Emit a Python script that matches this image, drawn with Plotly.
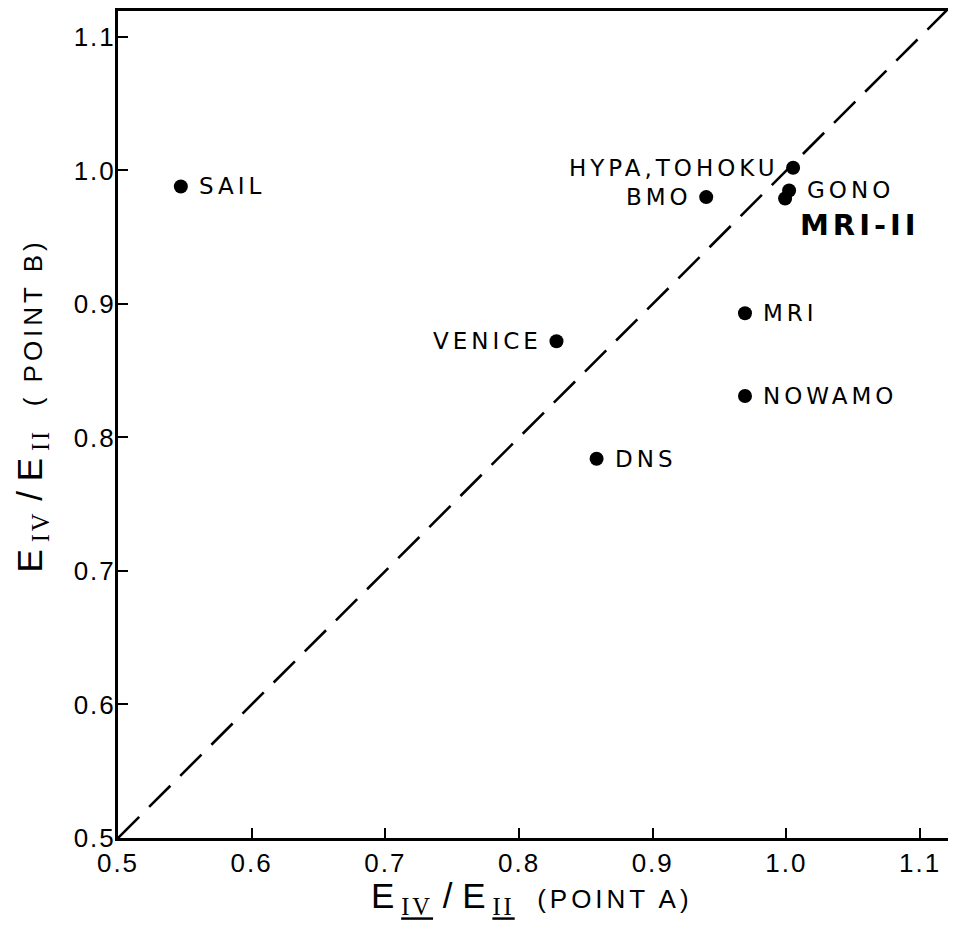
import plotly.graph_objects as go

# Data
labels = ["SAIL", "HYPA,TOHOKU", "GONO", "MRI-II", "BMO", "MRI", "NOWAMO", "VENICE", "DNS"]
point_a = [0.547, 1.005, 1.002, 0.999, 0.940, 0.969, 0.969, 0.828, 0.858]
point_b = [0.988, 1.002, 0.985, 0.979, 0.980, 0.893, 0.831, 0.872, 0.784]
tick_values = [0.5, 0.6, 0.7, 0.8, 0.9, 1.0, 1.1]
tick_labels = ["0.5", "0.6", "0.7", "0.8", "0.9", "1.0", "1.1"]
diag = [0.5, 1.13]

# label side per point (style)
label_side = ["right", "left", "right", "below", "left", "right", "right", "left", "right"]

SP = "<span style='letter-spacing:4px'>{}</span>"
ROMAN = "<span style='font-family:Liberation Serif;letter-spacing:3px'>{}</span>"

fig = go.Figure()

fig.add_trace(go.Scatter(
    x=diag, y=diag, mode="lines",
    line=dict(color="black", width=2.6, dash="30px,14px"),
    hoverinfo="skip", showlegend=False,
))

fig.add_trace(go.Scatter(
    x=point_a, y=point_b, mode="markers",
    marker=dict(color="black", size=14),
    showlegend=False,
))

label_font = dict(family="DejaVu Sans", size=23, color="black")
for lab, xa, yb, side in zip(labels, point_a, point_b, label_side):
    if side == "right":
        fig.add_annotation(x=xa, y=yb, text=SP.format(lab), showarrow=False,
                           xanchor="left", yanchor="middle", xshift=16, font=label_font)
    elif side == "left":
        fig.add_annotation(x=xa, y=yb, text=SP.format(lab), showarrow=False,
                           xanchor="right", yanchor="middle", xshift=-12, font=label_font)
    else:
        fig.add_annotation(x=xa, y=yb, text="<b>" + SP.format(lab) + "</b>", showarrow=False,
                           xanchor="left", yanchor="middle", xshift=13, yshift=-27,
                           font=dict(family="DejaVu Sans", size=29, color="black"))

axis_common = dict(
    tickmode="array", tickvals=tick_values,
    ticktext=["<span style='letter-spacing:2px'>" + t + "</span>" for t in tick_labels],
    ticks="inside", ticklen=10, tickwidth=2, tickcolor="black",
    showline=True, linecolor="black", linewidth=3, mirror=True,
    showgrid=False, zeroline=False,
    tickfont=dict(family="Liberation Sans", size=26, color="black"),
)

fig.update_xaxes(range=[0.5, 1.1246], ticklabelstandoff=0, **axis_common)
fig.update_yaxes(range=[0.5, 1.1194], ticklabelstandoff=-6, **axis_common)

# axis titles
fig.add_annotation(
    xref="paper", yref="paper", x=0.496, y=0, yshift=-60,
    text="E<sub> <u>" + ROMAN.format("IV") + "</u></sub> / E<sub> <u>" + ROMAN.format("II") + "</u></sub>"
         "<span style='font-size:26px;letter-spacing:4px'>  (POINT A)</span>",
    showarrow=False, xanchor="center", yanchor="middle",
    font=dict(family="Liberation Sans", size=35, color="black"),
)
fig.add_annotation(
    xref="paper", yref="paper", x=0, y=0.523, xshift=-86,
    text="E<sub> " + ROMAN.format("IV") + "</sub> / E<sub> " + ROMAN.format("II") + "</sub>"
         "<span style='font-size:26px;letter-spacing:4px'>  ( POINT B)</span>",
    showarrow=False, xanchor="center", yanchor="middle", textangle=-90,
    font=dict(family="Liberation Sans", size=35, color="black"),
)

fig.update_layout(
    width=948, height=921,
    margin=dict(l=110, r=1, t=0, b=91),
    paper_bgcolor="white", plot_bgcolor="white",
    showlegend=False,
)

fig.write_html("out.html")
